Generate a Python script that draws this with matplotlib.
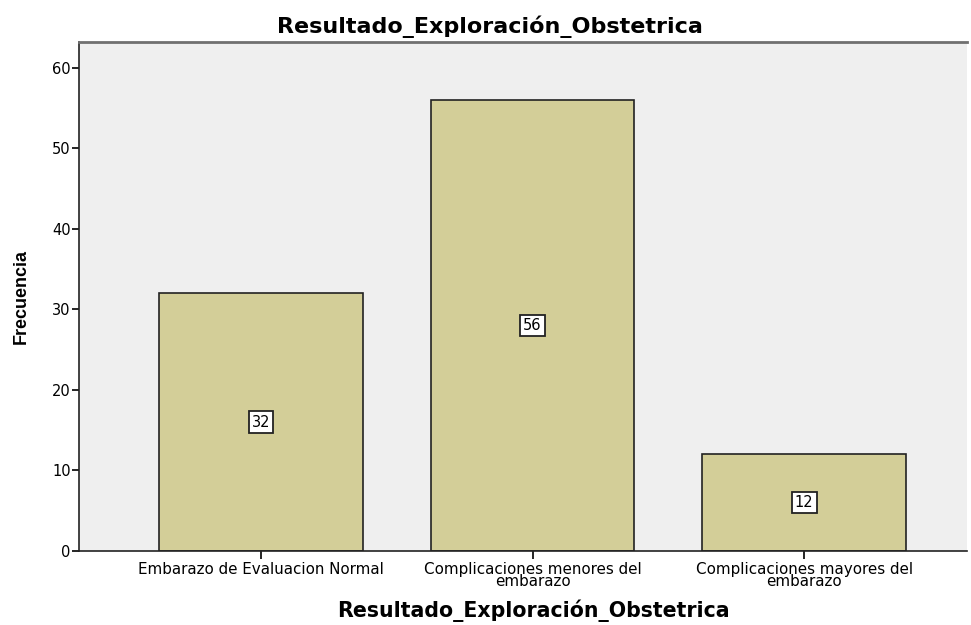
import matplotlib.pyplot as plt
import numpy as np

plt.rcParams['font.family'] = ['DejaVu Sans']

# data
categories = ['Embarazo de Evaluacion Normal',
              'Complicaciones menores del\nembarazo',
              'Complicaciones mayores del\nembarazo']
counts = [32, 56, 12]
title = 'Resultado_Exploración_Obstetrica'

fig = plt.figure(figsize=(9.71, 6.25), dpi=100)
ax = fig.add_axes([0.0814, 0.1184, 0.9145, 0.8144])
ax.set_facecolor('#EFEFEF')

x = np.arange(len(categories))
ax.bar(x, counts, width=0.75, color='#D3CE98', edgecolor='#222222', linewidth=1.2, zorder=2)

# value labels in the middle of each bar
for xi, c in zip(x, counts):
    ax.text(xi, c / 2, str(c), ha='center', va='center', fontsize=10.5,
            bbox=dict(boxstyle='square,pad=0.22', facecolor='white', edgecolor='#222222', linewidth=1.3),
            zorder=3)

ax.set_xlim(-0.67, 2.6)
ax.set_ylim(0, 63.2)
ax.set_yticks([0, 10, 20, 30, 40, 50, 60])
ax.set_xticks(x)
ax.set_xticklabels(categories, fontsize=10.9, linespacing=0.78)
ax.tick_params(axis='y', labelsize=10.5, length=5, width=1.2, direction='out', pad=1)
ax.tick_params(axis='x', length=6, width=1.2, direction='out', pad=2)

for side in ['left', 'bottom']:
    ax.spines[side].set_linewidth(1.2)
    ax.spines[side].set_color('#222222')
ax.spines['right'].set_visible(False)
ax.spines['top'].set_linewidth(2)
ax.spines['top'].set_color('#707070')

# title and x label placed on the figure, like the SPSS output
fig.text(0.505, 0.958, title, ha='center', va='center', fontsize=16, fontweight='bold')
fig.text(0.549, 0.022, title, ha='center', va='center', fontsize=14.8, fontweight='bold')
ax.set_ylabel('Frecuencia', fontsize=13, fontweight='bold', labelpad=16,
              family=['Liberation Sans Narrow', 'Liberation Sans'])

fig.savefig('out.png', dpi=100)
